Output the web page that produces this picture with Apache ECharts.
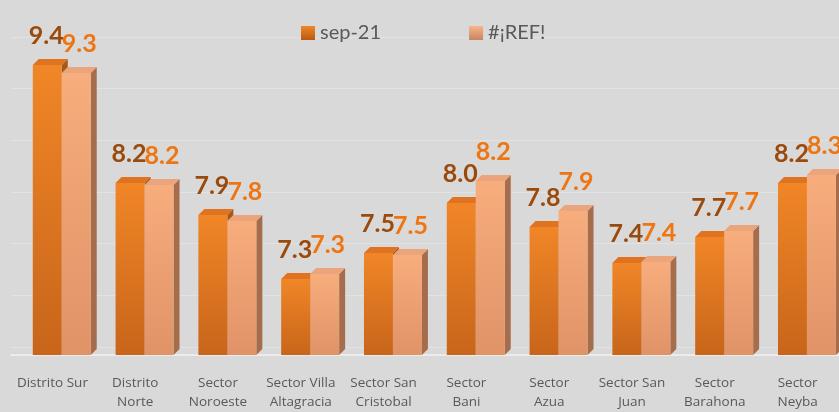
<!DOCTYPE html>
<html lang="es">
<head>
  <meta charset="UTF-8">
  <title>sep-21 por sector</title>
  <style>
    html, body { margin: 0; padding: 0; background: #d9d9d9; }
    #myChart { width: 839px; height: 412px; }
  </style>
</head>
<body>
  <div id="myChart"></div>
  <script src="https://cdn.jsdelivr.net/npm/echarts@6/dist/echarts.min.js"></script>
  <script>
    // categorias
    const categories = ['Distrito Sur', 'Distrito\nNorte', 'Sector\nNoroeste', 'Sector Villa\nAltagracia',
      'Sector San\nCristobal', 'Sector\nBani', 'Sector\nAzua', 'Sector San\nJuan', 'Sector\nBarahona', 'Sector\nNeyba'];
    // valores
    const sep21 = [9.40, 8.22, 7.90, 7.26, 7.52, 8.02, 7.78, 7.42, 7.68, 8.22];
    const refVals = [9.32, 8.20, 7.84, 7.31, 7.50, 8.24, 7.94, 7.43, 7.74, 8.30];
    const seriesNames = ['sep-21', '#¡REF!'];

    const yMin = 6.5;
    const yMax = 9.5;

    const grad = (a, b) => new echarts.graphic.LinearGradient(0, 0, 0, 1, [
      { offset: 0, color: a }, { offset: 1, color: b }
    ]);

    // colores de cada serie: frente, lado, tapa, etiqueta
    const looks = [
      { front: ['#f08627', '#c8651a'], side: '#a65818', top: '#e0731f', label: '#9a4a0c' },
      { front: ['#f8ad7d', '#df9367'], side: '#a56d4c', top: '#eaa57c', label: '#ee7512' }
    ];

    const depth = 6;

    function renderBar(idx) {
      return function (params, api) {
        const cat = api.value(0);
        const val = api.value(1);
        const top = api.coord([cat, val]);
        const base = api.coord([cat, yMin]);
        const band = api.size([1, 0])[0];
        const w = band * 0.35;
        const x0 = top[0] - band * 0.237 + idx * w;
        const x1 = x0 + w;
        const yt = top[1];
        const yb = base[1];
        const look = looks[idx];
        return {
          type: 'group',
          children: [
            {
              type: 'polygon',
              shape: { points: [[x1, yt], [x1 + depth, yt - depth], [x1 + depth, yb - depth], [x1, yb]] },
              style: { fill: look.side }
            },
            {
              type: 'rect',
              shape: { x: x0, y: yt, width: w, height: yb - yt },
              style: { fill: grad(look.front[0], look.front[1]) }
            },
            {
              type: 'polygon',
              shape: { points: [[x0, yt], [x1, yt], [x1 + depth, yt - depth], [x0 + depth, yt - depth]] },
              style: { fill: look.top }
            },
            {
              type: 'text',
              x: (x0 + x1) / 2 + (idx ? 3 : -1),
              y: yt - 29,
              style: {
                text: val.toFixed(1),
                align: 'center',
                verticalAlign: 'middle',
                fill: look.label,
                font: 'bold 25px Lato'
              }
            }
          ]
        };
      };
    }

    const option = {
      backgroundColor: '#d9d9d9',
      animation: false,
      legend: {
        left: 296,
        top: 18,
        itemWidth: 14,
        itemHeight: 14,
        itemGap: 88,
        icon: 'rect',
        textStyle: { fontFamily: 'Lato', fontSize: 20, color: '#595959' },
        data: [
          { name: seriesNames[0], itemStyle: { color: grad('#f08627', '#b85a14') } },
          { name: seriesNames[1], itemStyle: { color: grad('#f8b48a', '#c98460') } }
        ]
      },
      grid: [
        // pared del fondo (lineas)
        { left: 11, right: -15, top: 37, bottom: 65 },
        // barras
        { left: 11, right: -15, top: 55, bottom: 54 }
      ],
      xAxis: [
        { gridIndex: 0, type: 'category', data: categories, show: false },
        {
          gridIndex: 1,
          type: 'category',
          data: categories,
          axisTick: { show: false },
          axisLine: { lineStyle: { color: '#ececec', width: 2 } },
          axisLabel: {
            interval: 0,
            margin: 19,
            color: '#595959',
            fontFamily: 'Open Sans',
            fontSize: 13.5,
            lineHeight: 19
          }
        }
      ],
      yAxis: [
        {
          gridIndex: 0,
          type: 'value',
          min: yMin,
          max: yMax,
          interval: 0.5,
          axisLabel: { show: false },
          axisLine: { show: false },
          axisTick: { show: false },
          splitLine: { lineStyle: { color: '#e2e2e2', width: 1 } }
        },
        { gridIndex: 1, type: 'value', min: yMin, max: yMax, show: false, splitLine: { show: false } }
      ],
      series: [0, 1].map(idx => ({
        name: seriesNames[idx],
        type: 'custom',
        xAxisIndex: 1,
        yAxisIndex: 1,
        clip: false,
        renderItem: renderBar(idx),
        encode: { x: 0, y: 1 },
        data: (idx ? refVals : sep21).map((v, i) => [i, v])
      }))
    };

    const myChart = echarts.init(document.getElementById('myChart'));
    myChart.setOption(option);
  </script>
</body>
</html>
